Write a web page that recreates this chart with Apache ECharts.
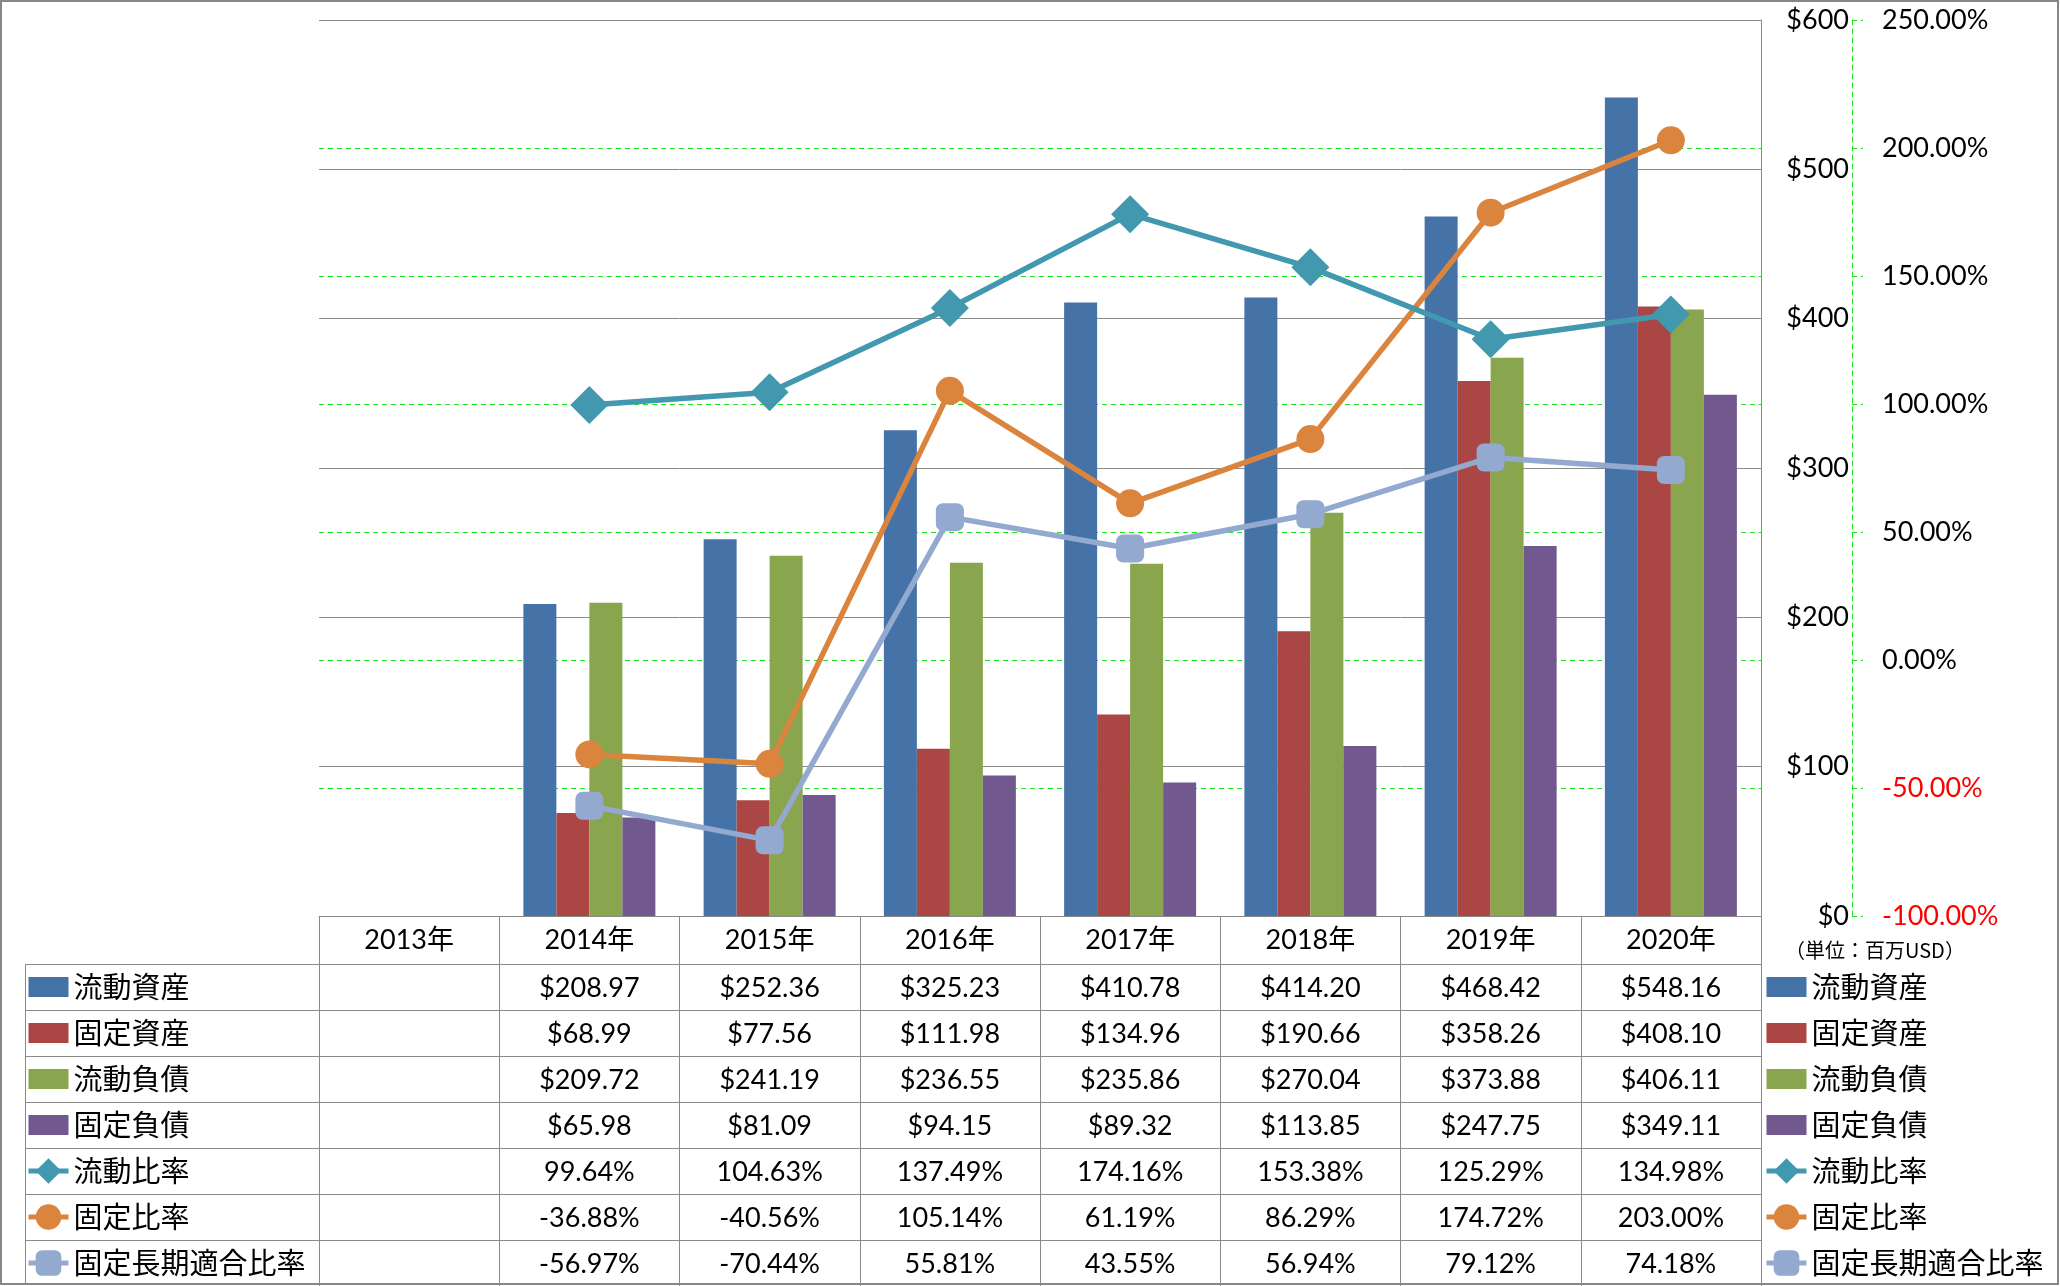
<!DOCTYPE html>
<html><head><meta charset="utf-8">
<script src="https://cdn.jsdelivr.net/npm/echarts@6/dist/echarts.min.js"></script>
<style>html,body{margin:0;padding:0;background:#fff}#c{width:2060px;height:1286px}</style>
</head><body><div id="c"></div>
<script>
const categories = ['2013年','2014年','2015年','2016年','2017年','2018年','2019年','2020年'];
const currentAssets      = [null, 208.97, 252.36, 325.23, 410.78, 414.20, 468.42, 548.16];
const fixedAssets        = [null,  68.99,  77.56, 111.98, 134.96, 190.66, 358.26, 408.10];
const currentLiabilities = [null, 209.72, 241.19, 236.55, 235.86, 270.04, 373.88, 406.11];
const fixedLiabilities   = [null,  65.98,  81.09,  94.15,  89.32, 113.85, 247.75, 349.11];
const currentRatio       = [null,  99.64, 104.63, 137.49, 174.16, 153.38, 125.29, 134.98];
const fixedRatio         = [null, -36.88, -40.56, 105.14,  61.19,  86.29, 174.72, 203.00];
const fixedLongTermRatio = [null, -56.97, -70.44,  55.81,  43.55,  56.94,  79.12,  74.18];
const seriesNames = ['流動資産','固定資産','流動負債','固定負債','流動比率','固定比率','固定長期適合比率'];
const moneyAxis = {min: 0, max: 600, step: 100};
const pctAxis = {min: -100, max: 250, step: 50};
const unitLabel = '（単位：百万USD）';

const LATIN = 'Lato, "Noto Sans CJK JP", sans-serif';
const CJK = '"Noto Sans CJK JP", sans-serif';
const GRAY = '#8a8a8a';
const GREEN = '#1ee61e';
const colors = ['#4572A7','#AA4643','#89A54E','#71588F','#4198AF','#DB843D','#93A9CF'];

const barData = [currentAssets, fixedAssets, currentLiabilities, fixedLiabilities];
const lineData = [currentRatio, fixedRatio, fixedLongTermRatio];
const symbols = [['diamond', 38], ['circle', 28], ['roundRect', 28]];
const toData = arr => arr.map(v => v == null ? '-' : v);

const chart = echarts.init(document.getElementById('c'), null, {renderer: 'canvas'});

const series = [];
barData.forEach((arr, i) => {
  series.push({
    name: seriesNames[i], type: 'bar', yAxisIndex: 0, data: toData(arr),
    barWidth: 33, barGap: '0%', itemStyle: {color: colors[i]}, z: 2
  });
});
lineData.forEach((arr, i) => {
  series.push({
    name: seriesNames[4 + i], type: 'line', yAxisIndex: 1, data: toData(arr),
    symbol: symbols[i][0], symbolSize: symbols[i][1], showAllSymbol: true,
    lineStyle: {width: 5.5, color: colors[4 + i]}, itemStyle: {color: colors[4 + i]},
    z: 10 - i
  });
});

const barIcon = 'path://M0,0L40,0L40,20L0,20Z';
const legendCommon = {
  orient: 'vertical', top: 964, itemWidth: 40, itemHeight: 32, itemGap: 0, padding: 0,
  selectedMode: false, symbolKeepAspect: true,
  data: seriesNames.map((n, i) => i < 4 ? {name: n, icon: barIcon} : {name: n}),
  lineStyle: {width: 5},
  textStyle: {fontFamily: CJK, fontSize: 29, lineHeight: 46, color: '#000'}
};

const option = {
  animation: false,
  backgroundColor: '#fff',
  grid: {left: 319, right: 299, top: 20, bottom: 370, containLabel: false, outerBoundsMode: 'none'},
  legend: [
    Object.assign({left: 26}, legendCommon),
    Object.assign({left: 1764}, legendCommon)
  ],
  xAxis: {
    type: 'category', data: categories, boundaryGap: true,
    axisLine: {show: true, lineStyle: {color: GRAY, width: 1}},
    axisTick: {show: true, length: 370, lineStyle: {color: GRAY, width: 1}},
    axisLabel: {fontFamily: LATIN, fontSize: 27, lineHeight: 32, margin: 8, color: '#000', interval: 0},
    splitLine: {show: false}
  },
  yAxis: [
    {
      type: 'value', position: 'right', min: moneyAxis.min, max: moneyAxis.max, interval: moneyAxis.step, z: 1,
      axisLine: {show: true, lineStyle: {color: GRAY, width: 1}},
      axisTick: {show: false},
      axisLabel: {formatter: v => '$' + v, align: 'right', margin: 88, fontFamily: LATIN, fontSize: 27, color: '#000'},
      splitLine: {show: true, lineStyle: {color: GRAY, width: 1}}
    },
    {
      type: 'value', position: 'right', offset: 91, min: pctAxis.min, max: pctAxis.max, interval: pctAxis.step, z: 0,
      axisLine: {show: true, lineStyle: {color: GREEN, width: 1, type: [5, 4]}},
      axisTick: {show: true, inside: false, length: 11, lineStyle: {color: GREEN, width: 1, type: [5, 4]}},
      axisLabel: {
        formatter: v => Number(v).toFixed(2) + '%', margin: 30, fontFamily: LATIN, fontSize: 27,
        color: v => (parseFloat(v) < 0 ? '#FF0000' : '#000')
      },
      splitLine: {show: true, lineStyle: {color: GREEN, width: 1, type: [5, 4]}}
    }
  ],
  series: series
};
chart.setOption(option);

// Data table built from the arrays, positioned by the category axis
const rowTop = 964, rowH = 46, tableLeft = 25;
const gridRight = chart.convertToPixel({xAxisIndex: 0}, categories[categories.length - 1]) + 90.125;
const graphics = [];
graphics.push({type: 'rect', shape: {x: 1, y: 1, width: 2057, height: 1283},
  style: {fill: 'none', stroke: '#868686', lineWidth: 2}, z: 100});
for (let r = 0; r < 7; r++) {
  const y = rowTop + r * rowH + 0.5;
  graphics.push({type: 'line', shape: {x1: tableLeft, y1: y, x2: gridRight, y2: y},
    style: {stroke: GRAY, lineWidth: 1}, z: 50});
}
graphics.push({type: 'line', shape: {x1: tableLeft + 0.5, y1: rowTop, x2: tableLeft + 0.5, y2: 1285},
  style: {stroke: GRAY, lineWidth: 1}, z: 50});
const rows = barData.map(a => a.map(v => v == null ? '' : '$' + v.toFixed(2)))
  .concat(lineData.map(a => a.map(v => v == null ? '' : v.toFixed(2) + '%')));
rows.forEach((row, r) => {
  row.forEach((txt, c) => {
    if (!txt) return;
    const x = chart.convertToPixel({xAxisIndex: 0}, categories[c]);
    graphics.push({type: 'text', x: x, y: rowTop + r * rowH + rowH / 2 + 1, z: 60,
      style: {text: txt, fontFamily: LATIN, fontSize: 27, fill: '#000', align: 'center', verticalAlign: 'middle'}});
  });
});
graphics.push({type: 'text', x: 1785, y: 950, z: 60,
  style: {text: unitLabel, fontFamily: CJK, fontSize: 20, fill: '#000', align: 'left', verticalAlign: 'middle'}});
chart.setOption({graphic: graphics});
</script>
</body></html>
